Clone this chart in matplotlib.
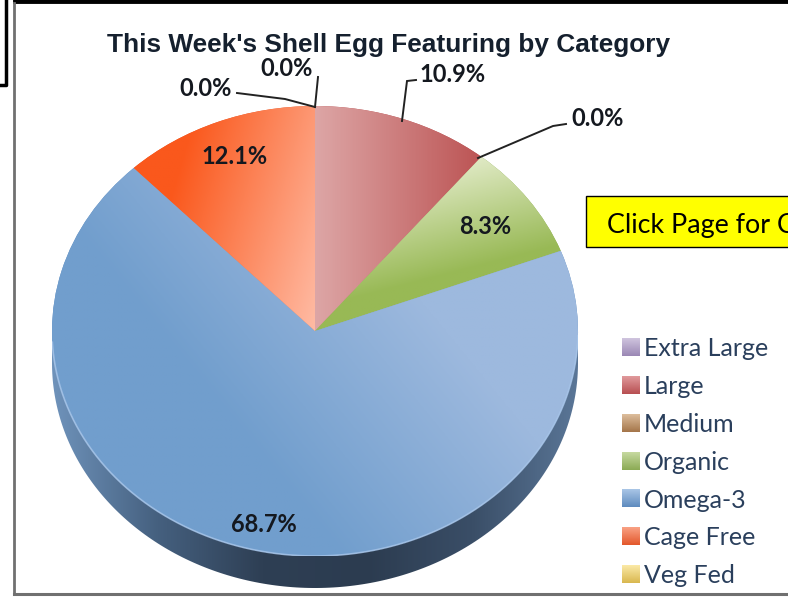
"""Shell egg featuring pie, drawn with a fake 3D rim and gradient slices."""

import numpy as np
import matplotlib
matplotlib.use("Agg")
import matplotlib.pyplot as plt
from matplotlib.colors import LinearSegmentedColormap
from matplotlib.patches import Polygon, Rectangle

W, H = 788, 601

title = "This Week's Shell Egg Featuring by Category"
categories = ["Extra Large", "Large", "Medium", "Organic", "Omega-3", "Cage Free", "Veg Fed"]
values = [0.0, 10.9, 0.0, 8.3, 68.7, 12.1, 0.0]
swatch_light = ["#cfc4de", "#e09a9c", "#dcbd9c", "#c6d9a0", "#a9c5e6", "#f9a184", "#fbe9a6"]
swatch_dark = ["#9b88b5", "#b84f52", "#a5764a", "#8cab55", "#5f8cbf", "#e3582c", "#d9b850"]

# slice gradients: start colour, end colour, direction, range along that direction
slice_grad = {
    "Large": ("#dda6a6", "#bd5656", (1, 0), (0.0, 0.62)),
    "Organic": ("#e2ebc8", "#98b955", (0.3, -1), (-0.6, -0.1)),
    "Omega-3": ("#719ecd", "#9db9de", (1, 0.7), (-0.6, 0.5)),
    "Cage Free": ("#fa581c", "#ffbba4", (1, -0.25), (-0.7, 0.0)),
}

# label anchor points in picture pixels, same order as categories
label_pos = [(287, 68), (453, 74), (598, 119), (485, 227), (264, 525), (235, 156), (206, 88)]

# leader lines in picture pixels
leaders = [
    [(315, 107), (318, 77)],
    [(402, 121), (407, 81), (416, 80)],
    [(478, 158), (553, 126), (566, 124)],
    [(315, 107), (285, 99), (237, 93)],
]

CX, CY, RX, RY, DEPTH = 315, 331, 263, 225, 32

fig = plt.figure(figsize=(W / 100, H / 100), dpi=100, facecolor="white")

# pixel axes for frame, rim and legend
base = fig.add_axes([0, 0, 1, 1])
base.set_xlim(0, W)
base.set_ylim(H, 0)
base.axis("off")

base.plot([15, W], [1, 1], color="black", lw=3.5)
base.plot([14, 14], [3, 594], color="#707070", lw=2)
base.plot([14, W], [594, 594], color="#707070", lw=2.2)
base.plot([6, 6, 0], [0, 85, 85], color="black", lw=2.5)

base.add_patch(Rectangle((586, 196), 210, 51, facecolor="#ffff00", edgecolor="black", lw=1))
base.text(607, 226, "Click Page for C", family="Lato", fontsize=19.4, color="black",
          va="center", ha="left")

# rim under the pie
t = np.linspace(0, np.pi, 200)
outer = np.column_stack([CX + RX * np.cos(t), CY + DEPTH + RY * np.sin(t)])
inner = np.column_stack([CX + RX * np.cos(t[::-1]), CY + RY * np.sin(t[::-1])])
rim = Polygon(np.vstack([outer, inner]), closed=True, facecolor="none", edgecolor="none")
base.add_patch(rim)
rim_cmap = LinearSegmentedColormap.from_list(
    "rim", ["#6f93bb", "#45607f", "#2e3f54", "#2c3c50", "#3a4e67", "#5a7697"])
rim_img = base.imshow(np.linspace(0, 1, 256)[None, :], extent=(CX - RX, CX + RX, H, 0),
                      cmap=rim_cmap, aspect="auto", zorder=2)
rim_img.set_clip_path(rim)
base.set_xlim(0, W)
base.set_ylim(H, 0)

# pie axes stretched so the circle comes out as the flattened ellipse
pie_ax = fig.add_axes([(CX - RX) / W, 1 - (CY + RY) / H, 2 * RX / W, 2 * RY / H])
pie_ax.patch.set_alpha(0)
wedges, _ = pie_ax.pie(values, startangle=90, counterclock=False, radius=1,
                       colors=swatch_dark, wedgeprops={"linewidth": 0})
pie_ax.set_aspect("auto")

grid_y, grid_x = np.mgrid[1:-1:400j, -1:1:400j]
for wedge, name in zip(wedges, categories):
    if name not in slice_grad:
        continue
    c0, c1, (dx, dy), (lo, hi) = slice_grad[name]
    ramp = np.clip(((grid_x * dx + grid_y * dy) - lo) / (hi - lo), 0, 1)
    cmap = LinearSegmentedColormap.from_list(name, [c0, c1])
    img = pie_ax.imshow(ramp, extent=(-1, 1, -1, 1), cmap=cmap, aspect="auto", zorder=2)
    img.set_clip_path(wedge)
pie_ax.set_xlim(-1, 1)
pie_ax.set_ylim(-1, 1)
pie_ax.axis("off")

# light edge along the bottom of the top face
t = np.linspace(0.02, np.pi - 0.05, 200)
pie_ax.plot(np.cos(t), -np.sin(t), color="#a8c6ea", lw=1.2, zorder=3, alpha=0.8)

# overlay for text and leader lines
top = fig.add_axes([0, 0, 1, 1])
top.patch.set_alpha(0)
top.set_xlim(0, W)
top.set_ylim(H, 0)
top.axis("off")

top.text(388.5, 45, title, family="Liberation Sans", weight="bold", fontsize=18.9,
         color="#15202e", ha="center", va="center")

for line in leaders:
    xs, ys = zip(*line)
    top.plot(xs, ys, color="#222222", lw=1.4, solid_joinstyle="miter")

for v, (x, y) in zip(values, label_pos):
    top.text(x, y, f"{v:.1f}%", family="Lato", weight="bold", fontsize=17,
             color="#14181f", ha="center", va="center")

# legend
for i, name in enumerate(categories):
    y = 347.5 + i * 37.75
    cmap = LinearSegmentedColormap.from_list(name + "_sw", [swatch_light[i], swatch_dark[i]])
    top.imshow(np.linspace(0, 1, 32)[:, None], extent=(622, 640, y + 9, y - 9),
               cmap=cmap, aspect="auto")
    top.text(644, y + 1.5, name, family="Lato", fontsize=18, color="#2a3f5c",
             ha="left", va="center")
top.set_xlim(0, W)
top.set_ylim(H, 0)

fig.savefig("out.png", dpi=100)
